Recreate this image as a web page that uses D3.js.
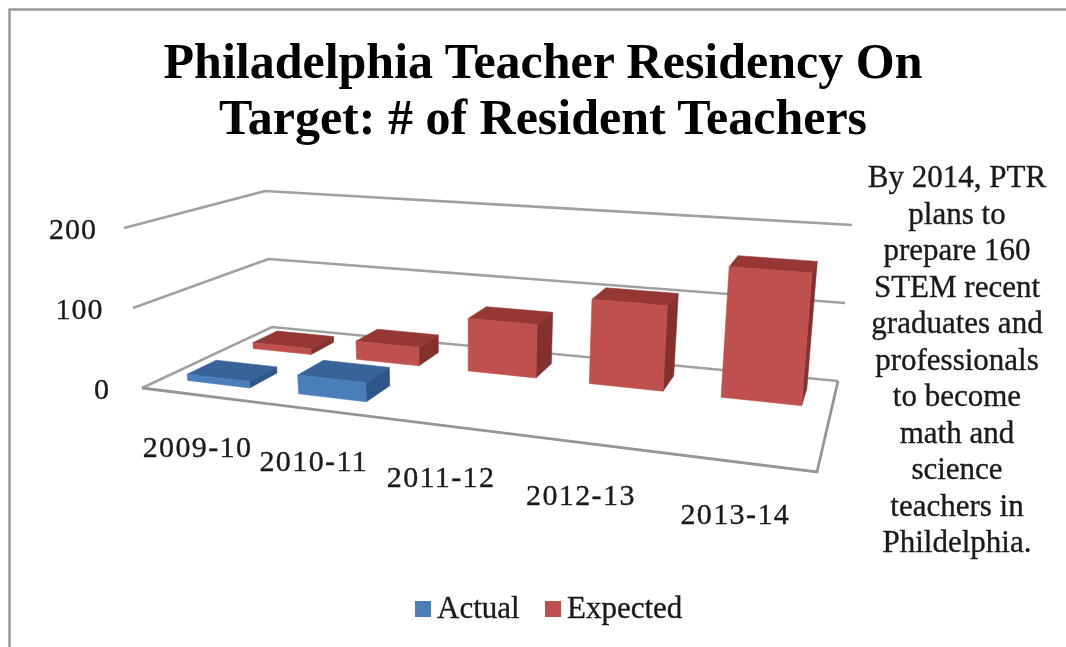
<!DOCTYPE html>
<html>
<head>
<meta charset="utf-8">
<script src="https://cdn.jsdelivr.net/npm/d3@7"></script>
<style>
  html, body { margin: 0; padding: 0; background: #fff; }
  svg { display: block; filter: blur(0.7px); }
  text { font-family: "Liberation Serif", serif; fill: #1a1a1a; stroke: #1a1a1a; stroke-width: 0.35px; }
</style>
</head>
<body>
<div id="chart"></div>
<script>
// Data
const categories = ["2009-10", "2010-11", "2011-12", "2012-13", "2013-14"];
const seriesNames = ["Actual", "Expected"];
const actual = [8, 23, null, null, null];
const expected = [8, 24, 68, 106, 160];
const yTicks = [0, 100, 200];
const titleLines = ["Philadelphia Teacher Residency On", "Target: # of Resident Teachers"];
const noteLines = ["By 2014, PTR", "plans to", "prepare  160", "STEM recent", "graduates and",
  "professionals", "to become", "math and", "science", "teachers in", "Phildelphia."];

const fullW = 1066, fullH = 647;

const svg = d3.select("#chart")
  .append("svg")
  .attr("width", fullW)
  .attr("height", fullH);

// Frame, runs off the right and bottom of the picture
svg.append("path")
  .attr("d", `M9.5,${fullH} V9.5 H${fullW}`)
  .attr("fill", "none")
  .attr("stroke", "#9a9a9a")
  .attr("stroke-width", 2.5);

// Scales: category along the floor, series into the depth, value upward
const u = d3.scaleBand().domain(categories).range([0.002, 1.002]).paddingInner(0.43).paddingOuter(0.215);
const v = d3.scaleBand().domain(seriesNames).range([0, 1]).paddingInner(0.58).paddingOuter(0.29);
const h = d3.scaleLinear().domain([0, 100]).range([0, 1]);
const tickGap = d3.scaleLinear().domain([0, 200]).range([-32, -27]);

// Floor corners on screen, and how far one 100 moves a point at each corner
const FL = [142, 388], FR = [817, 472], BR = [838, 381], BL = [272, 327];
const upFL = [-9, -80], upFR = [7, -93], upBR = [7, -78], upBL = [-3.5, -68];

// Perspective of the floor (unit square to the four corners)
const dx1 = FR[0] - BR[0], dy1 = FR[1] - BR[1];
const dx2 = BL[0] - BR[0], dy2 = BL[1] - BR[1];
const sx = FL[0] - FR[0] + BR[0] - BL[0], sy = FL[1] - FR[1] + BR[1] - BL[1];
const den = dx1 * dy2 - dx2 * dy1;
const pg = (sx * dy2 - dx2 * sy) / den;
const ph = (dx1 * sy - sx * dy1) / den;

function project(a, b, val) {
  const w = pg * a + ph * b + 1;
  const x = ((FR[0] - FL[0] + pg * FR[0]) * a + (BL[0] - FL[0] + ph * BL[0]) * b + FL[0]) / w;
  const y = ((FR[1] - FL[1] + pg * FR[1]) * a + (BL[1] - FL[1] + ph * BL[1]) * b + FL[1]) / w;
  const lift = i => (upFL[i] * (1 - a) + upFR[i] * a) * (1 - b) + (upBL[i] * (1 - a) + upBR[i] * a) * b;
  return [x + lift(0) * h(val), y + lift(1) * h(val)];
}

const lineGen = d3.line();

// Wall grid lines
svg.append("g").selectAll("path")
  .data(yTicks)
  .join("path")
  .attr("d", d => lineGen([project(0, 0, d), project(0, 1, d), project(1, 1, d)]))
  .attr("fill", "none")
  .attr("stroke", "#a0a0a0")
  .attr("stroke-width", 2.6);

// Floor outline
svg.append("path")
  .attr("d", lineGen([project(0, 0, 0), project(1, 0, 0), project(1, 1, 0)]))
  .attr("fill", "none")
  .attr("stroke", "#959595")
  .attr("stroke-width", 2.8);

// Value labels
svg.append("g").selectAll("text")
  .data(yTicks)
  .join("text")
  .attr("x", d => project(0, 0, d)[0] + tickGap(d))
  .attr("y", d => project(0, 0, d)[1] + 11)
  .attr("text-anchor", "end")
  .attr("font-size", 30)
  .attr("letter-spacing", 1)
  .text(d => d);

// Category labels
svg.append("g").selectAll("text")
  .data(categories)
  .join("text")
  .attr("x", d => project(u(d) + u.bandwidth() / 2, 0, 0)[0])
  .attr("y", d => project(u(d) + u.bandwidth() / 2, 0, 0)[1] + 62)
  .attr("text-anchor", "middle")
  .attr("font-size", 30)
  .attr("letter-spacing", 1.4)
  .text(d => d);

// Bars, back row first
const colours = {
  Actual: { front: "#4a7ebb", top: "#386398", side: "#2f5688" },
  Expected: { front: "#c0504d", top: "#953735", side: "#83302e" }
};
const rows = [
  { name: "Expected", values: expected },
  { name: "Actual", values: actual }
];

rows.forEach(row => {
  const g = svg.append("g");
  row.values.forEach((val, i) => {
    if (val === null) return;
    const a0 = u(categories[i]), a1 = a0 + u.bandwidth();
    const b0 = v(row.name), b1 = b0 + v.bandwidth();
    const face = (pts, col) => g.append("path")
      .attr("d", lineGen(pts) + "Z")
      .attr("fill", col)
      .attr("stroke", col)
      .attr("stroke-width", 0.6);
    face([project(a1, b0, 0), project(a1, b1, 0), project(a1, b1, val), project(a1, b0, val)], colours[row.name].side);
    face([project(a0, b0, val), project(a1, b0, val), project(a1, b1, val), project(a0, b1, val)], colours[row.name].top);
    face([project(a0, b0, 0), project(a1, b0, 0), project(a1, b0, val), project(a0, b0, val)], colours[row.name].front);
  });
});

// Title
svg.append("g").selectAll("text")
  .data(titleLines)
  .join("text")
  .attr("x", 543)
  .attr("y", (d, i) => 78 + i * 56)
  .attr("text-anchor", "middle")
  .attr("font-size", 50)
  .attr("font-weight", "bold")
  .style("fill", "#000")
  .style("stroke", "none")
  .text(d => d);

// Side note
svg.append("g").selectAll("text")
  .data(noteLines)
  .join("text")
  .attr("x", 957)
  .attr("y", (d, i) => 187 + i * 36.5)
  .attr("text-anchor", "middle")
  .attr("font-size", 31)
  .text(d => d);

// Legend
const legendX = d3.scaleOrdinal().domain(seriesNames).range([415, 545]);
const legend = svg.append("g").selectAll("g")
  .data(seriesNames)
  .join("g")
  .attr("transform", d => `translate(${legendX(d)},601)`);
legend.append("rect")
  .attr("width", 16)
  .attr("height", 16)
  .attr("fill", d => colours[d].front);
legend.append("text")
  .attr("x", 22)
  .attr("y", 17)
  .attr("font-size", 31)
  .text(d => d);
</script>
</body>
</html>
